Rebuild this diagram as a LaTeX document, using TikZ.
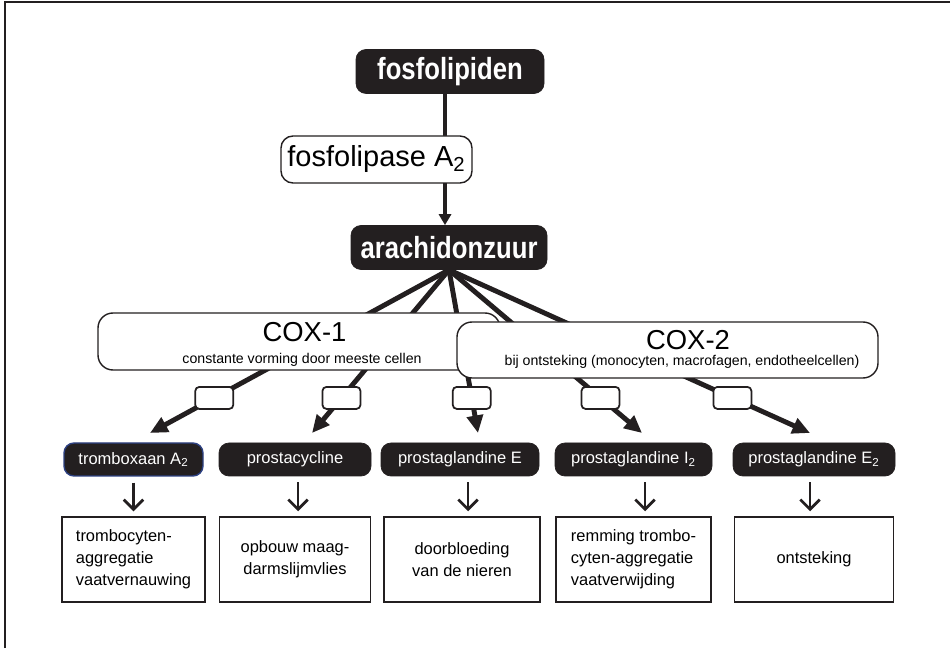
\documentclass[tikz,border=0pt]{standalone}
\usepackage{fontspec}
\setmainfont{Liberation Sans}
\newfontfamily\headfont{Liberation Sans}[FakeStretch=0.84]
\definecolor{inkblack}{RGB}{35, 31, 32}
\definecolor{boxblue}{RGB}{45, 65, 130}
\usetikzlibrary{arrows.meta, positioning, calc}

\tikzset{
  darkbox/.style={fill=inkblack, draw=inkblack, text=white, inner sep=0pt},
  headbox/.style={darkbox, rounded corners=0.2cm, minimum height=0.88cm, font=\headfont\bfseries\fontsize{17.4}{20}\selectfont},
  productbox/.style={darkbox, rounded corners=0.2cm, minimum height=0.66cm, font=\fontsize{9.4}{11}\selectfont},
  enzymebox/.style={draw=inkblack, fill=white, line width=0.8pt, inner sep=0pt},
  coxtitle/.style={anchor=base, inner sep=0pt, font=\fontsize{15.6}{18}\selectfont},
  coxnote/.style={anchor=base, inner sep=0pt, font=\fontsize{8.05}{10}\selectfont},
  slot/.style={draw=inkblack, fill=white, rounded corners=0.08cm, line width=1pt, minimum width=0.76cm, minimum height=0.44cm, inner sep=0pt},
  effectbox/.style={draw=inkblack, line width=0.85pt, minimum height=1.7cm, inner sep=0pt, font=\fontsize{9.35}{12.5}\selectfont},
  route/.style={inkblack, line width=2.8pt, -{Triangle[length=10pt, width=9pt]}},
  effectarrow/.style={inkblack, line width=1.6pt, -{Straight Barb[length=5.5pt, width=11pt]}, shorten <=0.12cm, shorten >=0.1cm}
}

\begin{document}
\begin{tikzpicture}
  \useasboundingbox (0,0) rectangle (19,12.96);

  % Frame
  \draw[inkblack, line width=1pt] (0.1,0) -- (0.1,12.92) -- (19,12.92);

  % Top of the chain
  \node[headbox, minimum width=3.76cm] (fosfo) at (9.0,11.53) {fosfolipiden};
  \node[headbox, minimum width=3.92cm] (ara) at (8.98,8.01) {arachidonzuur};
  \draw[inkblack, line width=2.2pt, -{Triangle[length=6.2pt, width=6.8pt]}] ([xshift=-0.1cm]fosfo.south) -- ([xshift=-0.08cm]ara.north);
  \node[enzymebox, rounded corners=0.24cm, minimum width=3.82cm, minimum height=0.94cm, font=\fontsize{16.5}{19}\selectfont] (lipase) at (7.53,9.77) {fosfolipase A\textsubscript{2}};

  % Routes from arachidonzuur
  \coordinate (tip1) at (3.0,4.3);
  \coordinate (tip2) at (6.24,4.3);
  \coordinate (tip3) at (9.56,4.3);
  \coordinate (tip4) at (12.84,4.3);
  \coordinate (tip5) at (16.2,4.3);
  \draw[route] (ara.south) -- (tip1);
  \draw[route] (ara.south) -- (tip2);
  \draw[route] (ara.south) -- (tip3);
  \draw[route] (ara.south) -- (tip4);
  \draw[route] (ara.south) -- (tip5);

  % COX enzymes
  \node[enzymebox, rounded corners=0.3cm, minimum width=8.04cm, minimum height=1.14cm] (cox1) at (5.98,6.13) {};
  \node[coxtitle] (cox1name) at ([xshift=0.11cm, yshift=-0.01cm]cox1.center) {COX-1};
  \node[coxnote] (cox1note) at ([xshift=0.06cm, yshift=-0.45cm]cox1.center) {constante vorming door meeste cellen};
  \node[enzymebox, rounded corners=0.3cm, minimum width=8.42cm, minimum height=1.12cm] (cox2) at (13.35,5.96) {};
  \node[coxtitle] (cox2name) at ([xshift=0.41cm]cox2.center) {COX-2};
  \node[coxnote] (cox2note) at ([xshift=0.29cm, yshift=-0.32cm]cox2.center) {bij ontsteking (monocyten, macrofagen, endotheelcellen)};

  % Empty slots on the routes
  \path (ara.south) -- (tip1) node[slot, pos=0.785] (s1) {};
  \path (ara.south) -- (tip2) node[slot, pos=0.785] (s2) {};
  \path (ara.south) -- (tip3) node[slot, pos=0.785] (s3) {};
  \path (ara.south) -- (tip4) node[slot, pos=0.785] (s4) {};
  \path (ara.south) -- (tip5) node[slot, pos=0.785] (s5) {};

  % Products
  \node[productbox, draw=boxblue, line width=0.8pt, minimum width=2.78cm] (p1) at (2.67,3.77) {tromboxaan A\textsubscript{2}};
  \node[productbox, minimum width=3.04cm] (p2) at (5.9,3.77) {prostacycline};
  \node[productbox, minimum width=3.16cm] (p3) at (9.2,3.77) {prostaglandine E};
  \node[productbox, minimum width=3.14cm] (p4) at (12.67,3.77) {prostaglandine I\textsubscript{2}};
  \node[productbox, minimum width=3.24cm] (p5) at (16.28,3.77) {prostaglandine E\textsubscript{2}};

  % Effects
  \node[effectbox, minimum width=2.86cm, align=left] (e1) at (2.67,1.77) {trombocyten-\\aggregatie\\vaatvernauwing};
  \node[effectbox, minimum width=3.02cm, align=center] (e2) at (5.9,1.77) {opbouw maag-\\darmslijmvlies};
  \node[effectbox, minimum width=3.12cm, align=center] (e3) at (9.24,1.77) {doorbloeding\\van de nieren};
  \node[effectbox, minimum width=3.1cm, align=left] (e4) at (12.67,1.77) {remming trombo-\\cyten-aggregatie\\vaatverwijding};
  \node[effectbox, minimum width=3.18cm, align=center] (e5) at (16.28,1.77) {ontsteking};

  \draw[effectarrow] (p1.south) -- (e1.north);
  \draw[effectarrow] ([xshift=0.06cm]p2.south) -- ([xshift=0.06cm]e2.north);
  \draw[effectarrow] ([xshift=0.16cm]p3.south) -- ([xshift=0.12cm]e3.north);
  \draw[effectarrow] ([xshift=0.23cm]p4.south) -- ([xshift=0.23cm]e4.north);
  \draw[effectarrow] ([xshift=-0.08cm]p5.south) -- ([xshift=-0.08cm]e5.north);
\end{tikzpicture}
\end{document}
